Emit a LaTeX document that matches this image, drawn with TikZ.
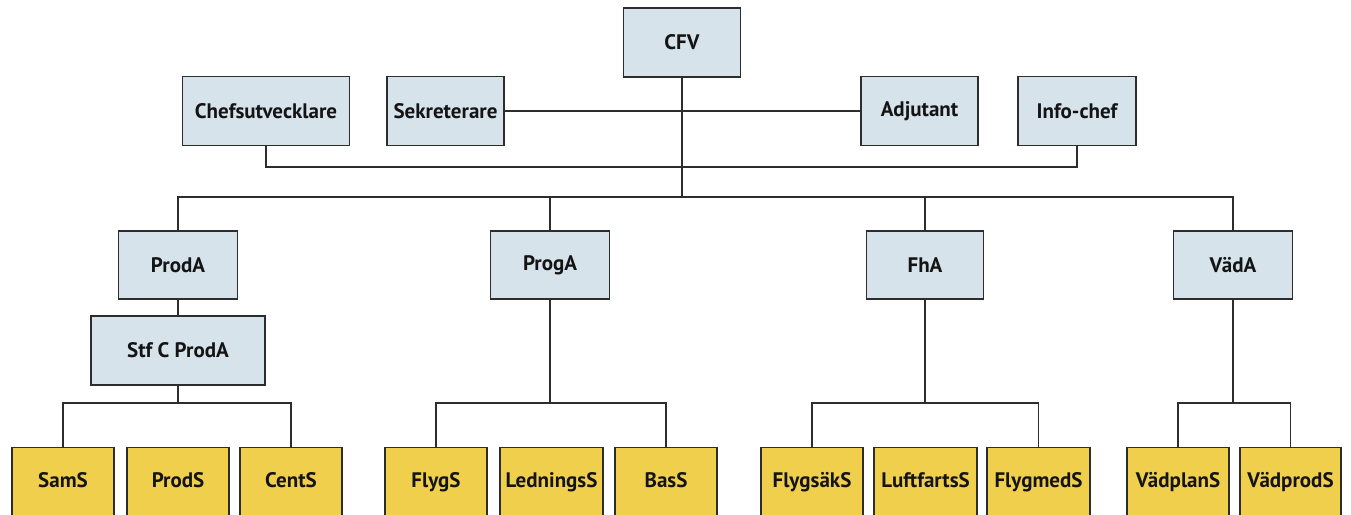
\documentclass[tikz,border=0pt]{standalone}
\usepackage{fontspec}
\setmainfont{PT Sans}
\definecolor{boxblue}{RGB}{214,227,235}
\definecolor{boxyellow}{RGB}{240,207,76}
\definecolor{edge}{RGB}{45,45,45}
\definecolor{txt}{RGB}{20,20,20}
\begin{document}
\begin{tikzpicture}[x=1pt,y=-1pt,
  unit/.style={draw=edge,line width=1.4pt,fill=boxblue,inner sep=0pt,
    minimum height=69pt,text=txt,font=\fontsize{21}{23}\selectfont\bfseries},
  sect/.style={draw=edge,line width=1.4pt,fill=boxyellow,inner xsep=0pt,inner ysep=0pt,
    anchor=north,text height=40pt,text depth=44pt,minimum width=102pt,
    text=txt,font=\fontsize{21}{23}\selectfont\bfseries},
  link/.style={draw=edge,line width=1.4pt}]
\useasboundingbox (0,0) rectangle (1351,514);
\clip (0,0) rectangle (1351,514);
\fill[white] (0,0) rectangle (1351,514);
% top
\node[unit,minimum width=117pt] (cfv) at (682,42.5) {CFV};
\node[unit,minimum width=167pt] (chef) at (266,111) {Chefsutvecklare};
\node[unit,minimum width=117pt] (sek) at (445.5,111) {Sekreterare};
\node[unit,minimum width=117pt] (adj) at (919.5,111) {Adjutant};
\node[unit,minimum width=118pt] (info) at (1077,111) {Info-chef};
% divisions
\node[unit,minimum width=119pt,minimum height=68pt] (proda) at (178,265) {ProdA};
\node[unit,minimum width=119pt,minimum height=68pt] (proga) at (550,265) {ProgA};
\node[unit,minimum width=117pt,minimum height=68pt] (fha) at (925,265) {FhA};
\node[unit,minimum width=119pt,minimum height=68pt] (vada) at (1233,265) {VädA};
\node[unit,minimum width=174pt] (stf) at (178,350.5) {Stf C ProdA};
% sections
\node[sect] (sams) at (63,447) {SamS};
\node[sect] (prods) at (178,447) {ProdS};
\node[sect] (cents) at (291,447) {CentS};
\node[sect] (flygs) at (436,447) {FlygS};
\node[sect,minimum width=103pt] (lednings) at (551.5,447) {LedningsS};
\node[sect] (bass) at (666,447) {BasS};
\node[sect] (flygsak) at (812,447) {FlygsäkS};
\node[sect,minimum width=103pt] (luftfarts) at (925.5,447) {LuftfartsS};
\node[sect,minimum width=103pt] (flygmed) at (1038.5,447) {FlygmedS};
\node[sect] (vadplan) at (1178,447) {VädplanS};
\node[sect,minimum width=101pt] (vadprod) at (1290.5,447) {VädprodS};
% junctions
\coordinate (j2) at (682,167);
\coordinate (j3) at (682,197);
\coordinate (b1) at (178,403);
\coordinate (b2) at (550,403);
\coordinate (b3) at (925,403);
\coordinate (b4) at (1233,403);
% connectors
\draw[link] (cfv.south) -- (j3);
\draw[link] (sek.east) -- (adj.west);
\draw[link] (chef.south) |- (j2) -| (info.south);
\draw[link] (proda.north) |- (j3) -| (vada.north);
\draw[link] (proga.north) -- (proga.north |- j3);
\draw[link] (fha.north) -- (fha.north |- j3);
\draw[link] (proda.south) -- (stf.north);
\draw[link] (stf.south) -- (b1);
\draw[link] (sams.north) |- (b1) -| (cents.north);
\draw[link] (proga.south) -- (b2);
\draw[link] (flygs.north) |- (b2) -| (bass.north);
\draw[link] (fha.south) -- (b3);
\draw[link] (flygsak.north) |- (b3) -| (flygmed.north);
\draw[link] (vada.south) -- (b4);
\draw[link] (vadplan.north) |- (b4) -| (vadprod.north);
\end{tikzpicture}
\end{document}
